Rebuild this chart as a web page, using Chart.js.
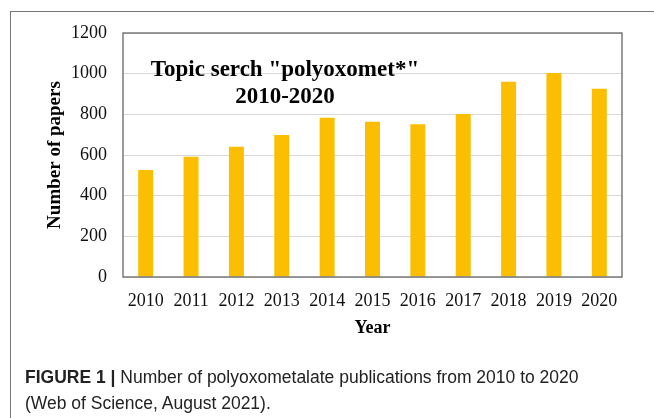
<!DOCTYPE html>
<html>
<head>
<meta charset="utf-8">
<script src="https://cdn.jsdelivr.net/npm/chart.js@4.4.0/dist/chart.umd.min.js"></script>
<style>
  html, body { margin: 0; padding: 0; background: #fff; }
  #wrap { position: relative; width: 654px; height: 418px; overflow: hidden; }
  #frame { position: absolute; left: 10px; top: 11px; width: 660px; height: 420px;
           border-top: 1px solid #777; border-left: 1px solid #777; }
  #chart { position: absolute; left: 0; top: 0; }
  .cap { position: absolute; left: 25px; font-family: 'Liberation Sans', Arial, sans-serif;
         font-size: 17.5px; color: #222; white-space: nowrap; }
  .cap b { font-weight: bold; }
</style>
</head>
<body>
<div id="wrap">
  <div id="frame"></div>
  <canvas id="chart" width="654" height="418"></canvas>
  <div class="cap" style="top:367px;"><b>FIGURE 1 |</b> Number of polyoxometalate publications from 2010 to 2020</div>
  <div class="cap" style="top:393px;">(Web of Science, August 2021).</div>
</div>
<script>
  // Data
  const years = ['2010', '2011', '2012', '2013', '2014', '2015', '2016', '2017', '2018', '2019', '2020'];
  const papers = [526, 592, 641, 698, 783, 764, 751, 802, 960, 1003, 926];
  const yTicks = [0, 200, 400, 600, 800, 1000, 1200];
  const titleLines = ['Topic serch "polyoxomet*"', '2010-2020'];

  const serif = "'Liberation Serif', 'Times New Roman', serif";

  // Box around the plot area + title text inside it
  const plotDecor = {
    id: 'plotDecor',
    afterDraw(chart) {
      const { ctx, chartArea: a } = chart;
      ctx.save();
      ctx.strokeStyle = '#666';
      ctx.lineWidth = 1.3;
      ctx.strokeRect(a.left, a.top, a.right - a.left, a.bottom - a.top);
      ctx.fillStyle = '#000';
      ctx.font = 'bold 23px ' + serif;
      ctx.textAlign = 'center';
      ctx.textBaseline = 'middle';
      ctx.fillText(titleLines[0], 285, 70);
      ctx.fillText(titleLines[1], 285, 97);
      ctx.restore();
    }
  };

  new Chart(document.getElementById('chart'), {
    type: 'bar',
    data: {
      labels: years,
      datasets: [{
        data: papers,
        backgroundColor: '#FBBE00',
        borderWidth: 0,
        categoryPercentage: 1,
        barPercentage: 0.33,
      }],
    },
    options: {
      responsive: false,
      animation: false,
      layout: { padding: { left: 44, top: 33, right: 32, bottom: 75 } },
      plugins: { legend: { display: false }, tooltip: { enabled: false } },
      scales: {
        x: {
          grid: { display: false },
          border: { display: false },
          ticks: { color: '#111', font: { family: serif, size: 18 }, padding: 5, maxRotation: 0 },
          title: { display: true, text: 'Year', color: '#000',
                   font: { family: serif, size: 18, weight: 'bold' }, padding: { top: 12 } },
          afterFit(s) { s.height = 66; },
        },
        y: {
          min: 0, max: 1200,
          afterBuildTicks(s) { s.ticks = yTicks.map(v => ({ value: v })); },
          grid: { color: '#d9d9d9', lineWidth: 1, drawTicks: false },
          border: { display: false },
          ticks: { color: '#111', font: { family: serif, size: 18 }, padding: 16,
                   callback: v => String(v) },
          title: { display: true, text: 'Number of papers', color: '#000',
                   font: { family: serif, size: 19, weight: 'bold' }, padding: 0 },
          afterFit(s) { s.width = 79; },
        },
      },
    },
    plugins: [plotDecor],
  });
</script>
</body>
</html>
